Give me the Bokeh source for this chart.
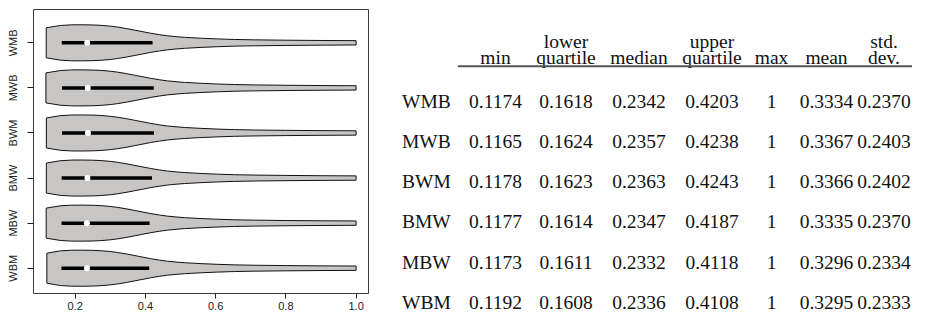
from bokeh.plotting import figure
from bokeh.layouts import row, column
from bokeh.models import Range1d, FixedTicker, NumeralTickFormatter
from bokeh.core.properties import value
from bokeh.embed import file_html
from bokeh.resources import INLINE

# ---------------- data ----------------
groups = ["WMB", "MWB", "BWM", "BMW", "MBW", "WBM"]          # table order, top to bottom
mins = [0.1174, 0.1165, 0.1178, 0.1177, 0.1173, 0.1192]
lower_q = [0.1618, 0.1624, 0.1623, 0.1614, 0.1611, 0.1608]
medians = [0.2342, 0.2357, 0.2363, 0.2347, 0.2332, 0.2336]
upper_q = [0.4203, 0.4238, 0.4243, 0.4187, 0.4118, 0.4108]
maxs = [1, 1, 1, 1, 1, 1]
means = [0.3334, 0.3367, 0.3366, 0.3335, 0.3296, 0.3295]
sds = [0.2370, 0.2403, 0.2402, 0.2370, 0.2334, 0.2333]

# violin outline (half-width; same shape for all groups)
min_halfwidth = 0.333
violin_x = [0.158, 0.19, 0.22, 0.25, 0.273, 0.30, 0.32, 0.345, 0.368, 0.39,
            0.415, 0.44, 0.463, 0.49, 0.511, 0.558, 0.606, 0.654, 0.71, 0.8, 0.9]
violin_hw = [0.385, 0.399, 0.40, 0.396, 0.388, 0.37, 0.35, 0.318, 0.283, 0.25,
             0.212, 0.18, 0.155, 0.135, 0.122, 0.102, 0.086, 0.074, 0.066, 0.058, 0.052]
max_halfwidth = 0.048

x_ticks = [0.2, 0.4, 0.6, 0.8, 1.0]
header_top = ["", "lower", "", "upper", "", "", "std."]
header_bottom = ["min", "quartile", "median", "quartile", "max", "mean", "dev."]

H = 314
PW = 372
TW = 540

# ---------------- violin panel ----------------
n = len(groups)
ypos = [n - i for i in range(n)]   # WMB at top

p = figure(width=PW, height=H, output_backend="svg", toolbar_location=None,
           x_range=Range1d(0.0812, 1.0353), y_range=Range1d(0.439, 6.739),
           min_border_left=33, min_border_right=4, min_border_top=9, min_border_bottom=21)
p.outline_line_color = "#3a3a3a"
p.outline_line_width = 1
p.grid.visible = False

xs, ys = [], []
for i in range(n):
    hw = [min_halfwidth] + violin_hw + [max_halfwidth]
    px = [mins[i]] + [mins[i]] + violin_x + [maxs[i]] + [maxs[i]] + violin_x[::-1]
    py = ([ypos[i] - min_halfwidth] + [ypos[i] + h for h in hw]
          + [ypos[i] - max_halfwidth] + [ypos[i] - h for h in violin_hw[::-1]])
    xs.append(px)
    ys.append(py)

p.patches(xs=xs, ys=ys, fill_color="#c8c5c5", line_color="#111111", line_width=1)
p.segment(x0=lower_q, x1=upper_q, y0=ypos, y1=ypos, line_color="black",
          line_width=3.5, line_cap="butt")
p.scatter(x=medians, y=ypos, size=6, fill_color="white", line_color=None)

p.xaxis.ticker = FixedTicker(ticks=x_ticks)
p.xaxis.formatter = NumeralTickFormatter(format="0.0")
p.yaxis.ticker = FixedTicker(ticks=ypos)
p.yaxis.major_label_overrides = {ypos[i]: groups[i] for i in range(n)}
p.yaxis.major_label_orientation = "vertical"
for ax in (p.xaxis, p.yaxis):
    ax.axis_line_color = None
    ax.major_tick_in = 0
    ax.major_tick_out = 6
    ax.major_tick_line_color = "#222222"
    ax.minor_tick_line_color = None
    ax.major_label_text_font = "Liberation Sans"
    ax.major_label_text_font_size = "11px"
    ax.major_label_text_color = "#222222"
p.xaxis.major_tick_out = 5
p.xaxis.major_label_standoff = 3
p.yaxis.major_label_standoff = 8

# ---------------- table panel (coordinates in page pixels) ----------------
t = figure(width=TW, height=H, output_backend="svg", toolbar_location=None,
           x_range=Range1d(PW, PW + TW), y_range=Range1d(H, 0),
           x_axis_location=None, y_axis_location=None,
           min_border=0, min_border_left=0, min_border_right=0,
           min_border_top=0, min_border_bottom=0)
t.grid.visible = False
t.outline_line_color = None

col_x = [495.0, 565.5, 638.5, 711.5, 771.0, 826.0, 883.5]
label_x = 401.5
head1_y, head2_y = 40.7, 57.3
rule_y, rule_x0 = 65.7, 457.3
row0_y, row_dy = 100.5, 40.3
font = value("Liberation Serif")
fsize = "19.5px"
tcol = "#111111"

t.text(x=col_x, y=[head1_y] * 7, text=header_top, text_font=font, text_font_size=fsize,
       text_align="center", text_baseline="alphabetic", text_color=tcol)
t.text(x=col_x, y=[head2_y] * 7, text=header_bottom, text_font=font, text_font_size=fsize,
       text_align="center", text_baseline="alphabetic", text_color=tcol)
t.segment(x0=[rule_x0], x1=[PW + TW], y0=[rule_y], y1=[rule_y], line_color="#555555", line_width=2)

row_y = [row0_y + i * row_dy for i in range(n)]
t.text(x=[label_x] * n, y=row_y, text=groups, text_font=font, text_font_size=fsize,
       text_align="left", text_baseline="alphabetic", text_color=tcol)
columns = [
    ["%.4f" % v for v in mins],
    ["%.4f" % v for v in lower_q],
    ["%.4f" % v for v in medians],
    ["%.4f" % v for v in upper_q],
    ["%d" % v for v in maxs],
    ["%.4f" % v for v in means],
    ["%.4f" % v for v in sds],
]
for j, col in enumerate(columns):
    t.text(x=[col_x[j]] * n, y=row_y, text=col, text_font=font, text_font_size=fsize,
           text_align="center", text_baseline="alphabetic", text_color=tcol)

layout = row(p, column(t))
open("out.html", "w").write(file_html(layout, INLINE))
